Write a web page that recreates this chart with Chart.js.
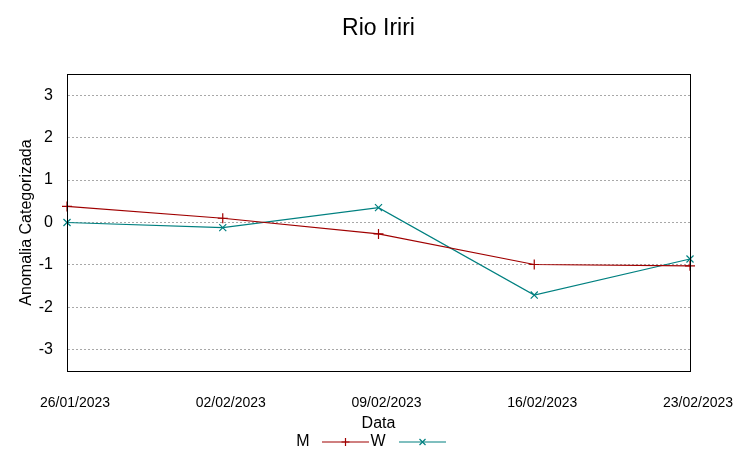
<!DOCTYPE html>
<html>
<head>
<meta charset="utf-8">
<script src="https://cdn.jsdelivr.net/npm/chart.js@4"></script>
<style>
  html,body{margin:0;padding:0;background:#fff;}
  #wrap{width:753px;height:459px;}
</style>
</head>
<body>
<div id="wrap"><canvas id="chart" width="753" height="459"></canvas></div>
<script>
const dates = ["26/01/2023","02/02/2023","09/02/2023","16/02/2023","23/02/2023"];
const serieM = [0.38, 0.10, -0.27, -0.99, -1.02];
const serieW = [0.00, -0.12, 0.35, -1.71, -0.86];
const yTicks = [-3,-2,-1,0,1,2,3];

const corM = "#a00000";
const corW = "#008080";
const fonte = "'Liberation Sans', Arial, sans-serif";

// -------- TEXTOS + LEGENDA --------
const extras = {
  id: "extras",
  afterDraw(c){
    const ctx = c.ctx, a = c.chartArea;
    ctx.save();
    // moldura
    ctx.strokeStyle = "#000";
    ctx.lineWidth = 1;
    ctx.strokeRect(a.left+0.5, a.top+0.5, a.right-a.left, a.bottom-a.top);

    ctx.fillStyle = "#000";
    ctx.textAlign = "center";
    ctx.textBaseline = "middle";
    ctx.font = "23px " + fonte;
    ctx.fillText("Rio Iriri", (a.left+a.right)/2, 29);

    ctx.font = "16px " + fonte;
    ctx.fillText("Data", (a.left+a.right)/2, 424);

    ctx.save();
    ctx.translate(27, (a.top+a.bottom)/2);
    ctx.rotate(-Math.PI/2);
    ctx.fillText("Anomalia Categorizada", 0, 0);
    ctx.restore();

    // legenda
    const ly = 442;
    ctx.fillText("M", 303, ly);
    ctx.fillText("W", 378, ly);
    const amostra = (x0, x1, cor, tipo) => {
      ctx.strokeStyle = cor;
      ctx.lineWidth = 1.2;
      ctx.beginPath(); ctx.moveTo(x0, ly); ctx.lineTo(x1, ly); ctx.stroke();
      const mx = (x0+x1)/2, r = 4;
      ctx.beginPath();
      if(tipo === "+"){
        ctx.moveTo(mx, ly-r); ctx.lineTo(mx, ly+r);
        ctx.moveTo(mx-r, ly); ctx.lineTo(mx+r, ly);
      } else {
        ctx.moveTo(mx-r*0.75, ly-r*0.75); ctx.lineTo(mx+r*0.75, ly+r*0.75);
        ctx.moveTo(mx-r*0.75, ly+r*0.75); ctx.lineTo(mx+r*0.75, ly-r*0.75);
      }
      ctx.stroke();
    };
    amostra(322, 369, corM, "+");
    amostra(399, 446, corW, "x");
    ctx.restore();
  }
};

new Chart(document.getElementById("chart"), {
  type: "line",
  data: {
    labels: dates,
    datasets: [
      { label: "M", data: serieM, borderColor: corM, backgroundColor: corM,
        borderWidth: 1.2, pointStyle: "cross", pointRadius: 5, pointBorderWidth: 1.2, tension: 0 },
      { label: "W", data: serieW, borderColor: corW, backgroundColor: corW,
        borderWidth: 1.2, pointStyle: "crossRot", pointRadius: 5, pointBorderWidth: 1.2, tension: 0 }
    ]
  },
  options: {
    responsive: false,
    animation: false,
    layout: { padding: { top: 74, right: 63, left: 0, bottom: 0 } },
    plugins: { legend: { display: false }, tooltip: { enabled: false } },
    scales: {
      x: {
        type: "category",
        offset: false,
        grid: { display: false, drawTicks: false },
        border: { display: true, color: "#000" },
        ticks: { color: "#000", font: { family: fonte, size: 14 }, padding: 24, labelOffset: 8, maxRotation: 0, autoSkip: false },
        afterFit(s){ s.height = 88; }
      },
      y: {
        min: -3.5, max: 3.5,
        afterBuildTicks(s){ s.ticks = yTicks.map(v => ({ value: v })); },
        grid: { color: "#a8a8a8", lineWidth: 1, drawTicks: false },
        border: { display: true, color: "#000", dash: [2, 2] },
        ticks: { color: "#000", font: { family: fonte, size: 16 }, padding: 14 },
        afterFit(s){ s.width = 67; }
      }
    }
  },
  plugins: [extras]
});
</script>
</body>
</html>
